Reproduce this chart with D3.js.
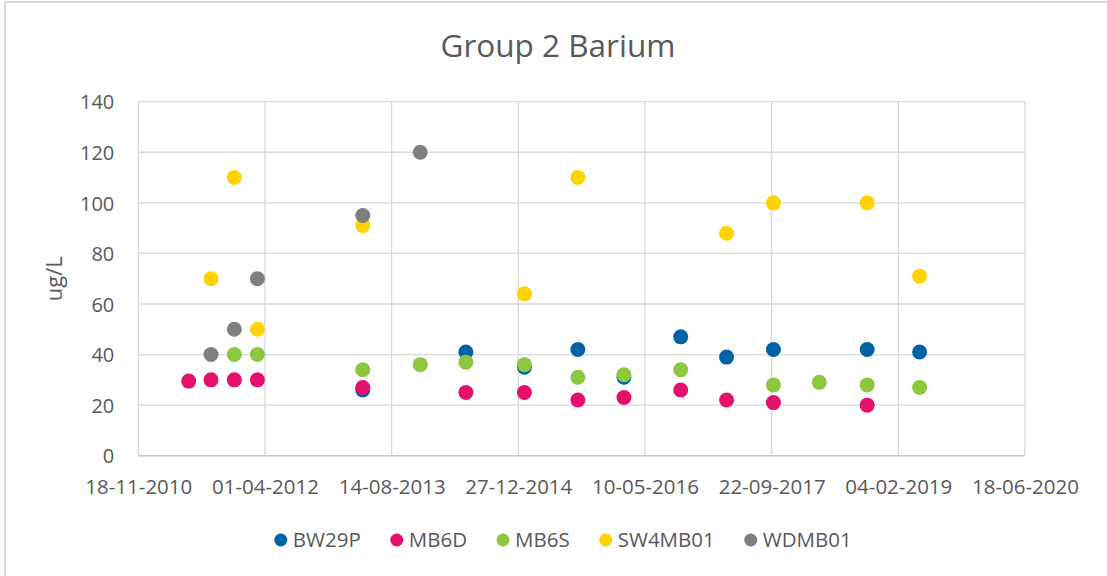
<!DOCTYPE html>
<html lang="en">
<head>
    <meta charset="UTF-8">
    <title>Group 2 Barium</title>
    <script src="https://d3js.org/d3.v7.min.js"></script>
    <style>
        body { margin: 0; background: #fff; }
        text { font-family: "Open Sans", sans-serif; fill: #595959; }
        .grid line { stroke: #d9d9d9; stroke-width: 1.3px; }
    </style>
</head>
<body>
<svg id="chart" width="1107" height="576"></svg>
<script>
    // sample dates (dd-mm-yyyy) and one value per series; null = not sampled
    const sampleDates = ["05-06-2011", "01-09-2011", "02-12-2011", "02-03-2012", "22-04-2013",
        "05-12-2013", "03-06-2014", "20-01-2015", "19-08-2015", "17-02-2016",
        "28-09-2016", "28-03-2017", "29-09-2017", "29-03-2018", "04-10-2018", "29-04-2019"];

    const seriesNames = ["BW29P", "MB6D", "MB6S", "SW4MB01", "WDMB01"];
    const seriesColors = ["#0063a6", "#e5106b", "#8dc63f", "#ffd200", "#7f7f7f"];

    const bw29p   = [null, null, null, null, 26, null, 41, 35, 42, 31, 47, 39, 42, null, 42, 41];
    const mb6d    = [29.5, 30, 30, 30, 27, null, 25, 25, 22, 23, 26, 22, 21, null, 20, null];
    const mb6s    = [null, null, 40, 40, 34, 36, 37, 36, 31, 32, 34, null, 28, 29, 28, 27];
    const sw4mb01 = [null, 70, 110, 50, 91, null, null, 64, 110, null, null, 88, 100, null, 100, 71];
    const wdmb01  = [null, 40, 50, 70, 95, 120, null, null, null, null, null, null, null, null, null, null];

    const seriesValues = [bw29p, mb6d, mb6s, sw4mb01, wdmb01];

    const xTickLabels = ["18-11-2010", "01-04-2012", "14-08-2013", "27-12-2014",
        "10-05-2016", "22-09-2017", "04-02-2019", "18-06-2020"];
    const yTicks = [0, 20, 40, 60, 80, 100, 120, 140];

    const parse = d3.utcParse("%d-%m-%Y");
    const fmt = d3.utcFormat("%d-%m-%Y");
    const xTickDates = xTickLabels.map(parse);

    const svg = d3.select("#chart");

    // chart area border
    svg.append("rect")
        .attr("x", 5).attr("y", 2)
        .attr("width", 1120).attr("height", 600)
        .attr("fill", "none")
        .attr("stroke", "#d9d9d9")
        .attr("stroke-width", 2);

    const plotLeft = 138.3, plotRight = 1025, plotTop = 101.7, plotBottom = 455.7;

    const x = d3.scaleUtc()
        .domain([xTickDates[0], xTickDates[xTickDates.length - 1]])
        .range([plotLeft, plotRight]);
    const y = d3.scaleLinear().domain([0, 140]).range([plotBottom, plotTop]);

    // gridlines
    const grid = svg.append("g").attr("class", "grid");
    grid.selectAll(".hg").data(yTicks).enter().append("line")
        .attr("x1", plotLeft).attr("x2", plotRight)
        .attr("y1", d => y(d)).attr("y2", d => y(d));
    grid.selectAll(".vg").data(xTickDates).enter().append("line")
        .attr("x1", d => x(d)).attr("x2", d => x(d))
        .attr("y1", plotTop).attr("y2", plotBottom);

    // bottom axis line
    svg.append("line")
        .attr("x1", plotLeft).attr("x2", plotRight)
        .attr("y1", plotBottom).attr("y2", plotBottom)
        .attr("stroke", "#c8c8c8").attr("stroke-width", 1.5);

    // x axis
    const xAxis = svg.append("g")
        .attr("transform", `translate(0,${plotBottom})`)
        .call(d3.axisBottom(x).tickValues(xTickDates).tickFormat(fmt).tickSize(0).tickPadding(0));
    xAxis.select(".domain").remove();
    xAxis.selectAll("text")
        .attr("y", 38).attr("dy", null)
        .attr("font-size", "20.5px")
        .attr("fill", "#595959");

    // y axis
    const yAxis = svg.append("g")
        .attr("transform", `translate(${plotLeft},0)`)
        .call(d3.axisLeft(y).tickValues(yTicks).tickSize(0).tickPadding(24));
    yAxis.select(".domain").remove();
    yAxis.selectAll("text")
        .attr("dy", "0.36em")
        .attr("font-size", "20px")
        .attr("fill", "#595959");

    // y axis title
    svg.append("text")
        .attr("transform", `translate(62,${(plotTop + plotBottom) / 2}) rotate(-90)`)
        .attr("text-anchor", "middle")
        .attr("font-size", "22px")
        .text("ug/L");

    // chart title
    svg.append("text")
        .attr("x", 558).attr("y", 57)
        .attr("text-anchor", "middle")
        .attr("font-size", "31.5px")
        .text("Group 2 Barium");

    // points
    seriesNames.forEach((name, si) => {
        const pts = sampleDates
            .map((d, i) => ({ date: parse(d), value: seriesValues[si][i] }))
            .filter(p => p.value !== null);
        svg.append("g").selectAll("circle")
            .data(pts).enter().append("circle")
            .attr("cx", d => x(d.date))
            .attr("cy", d => y(d.value))
            .attr("r", 7.5)
            .attr("fill", seriesColors[si]);
    });

    // legend
    const legend = svg.append("g");
    const gap = 36;
    let lx = 0;
    seriesNames.forEach((name, i) => {
        const item = legend.append("g").attr("transform", `translate(${lx},0)`);
        item.append("circle").attr("cx", 0).attr("cy", 0).attr("r", 6.5).attr("fill", seriesColors[i]);
        const t = item.append("text")
            .attr("x", 12).attr("y", 0).attr("dy", "0.36em")
            .attr("font-size", "20.5px")
            .text(name);
        lx += 12 + t.node().getComputedTextLength() + gap;
    });
    const legendWidth = lx - gap + 6.5;
    legend.attr("transform", `translate(${563 - legendWidth / 2 + 6.5},540)`);
</script>
</body>
</html>
